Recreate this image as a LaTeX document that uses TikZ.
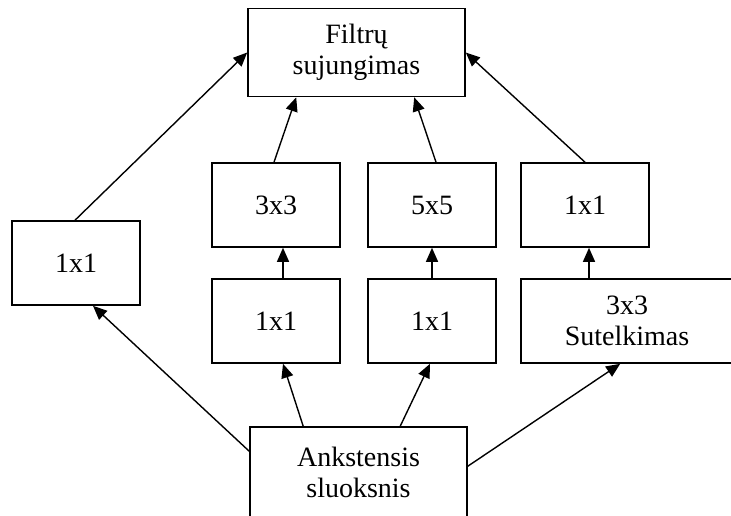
\documentclass[tikz,border=0pt]{standalone}
\usepackage{fontspec}
\setmainfont{Liberation Serif}
\usetikzlibrary{arrows.meta,calc}
\begin{document}
\begin{tikzpicture}[x=1pt,y=-1pt,
  box/.style={draw=black,line width=1.6pt,fill=white,align=center,inner sep=0pt,
    font=\fontsize{28}{31}\selectfont},
  sbox/.style={box,minimum width=128pt,minimum height=84pt},
  wbox/.style={box,minimum width=217pt,minimum height=88pt},
  conn/.style={line width=1.4pt,-{Triangle[length=14pt,width=12pt]}}]
\useasboundingbox (0,0) rectangle (731,515);

% layers
\node[wbox] (concat) at (356.5,52.5) {Filtrų\\sujungimas};
\node[sbox] (left) at (76,263) {1x1};
\node[sbox] (c3) at (276,205) {3x3};
\node[sbox] (c5) at (432,205) {5x5};
\node[sbox] (cp) at (585,205) {1x1};
\node[sbox] (r3) at (276,321) {1x1};
\node[sbox] (r5) at (432,321) {1x1};
\node[box,minimum width=212pt,minimum height=84pt] (pool) at (627,321) {3x3\\Sutelkimas};
\node[box,minimum width=217pt,minimum height=90pt] (prev) at (358.5,472) {Ankstensis\\sluoksnis};

% input to branches
\draw[conn] ($(prev.north west)+(0,25)$) -- ($(left.south)+(17,0)$);
\draw[conn] ($(prev.north west)+(54,0)$) -- ($(r3.south)+(7,0)$);
\draw[conn] ($(prev.north west)+(151,0)$) -- ($(r5.south)+(-2,0)$);
\draw[conn] ($(prev.north east)+(0,40)$) -- ($(pool.south west)+(100,0)$);

% reductions
\draw[conn] ($(r3.north)+(7,0)$) -- ($(c3.south)+(7,0)$);
\draw[conn] (r5.north) -- (c5.south);
\coordinate (cpin) at ($(cp.south)+(4,0)$);
\draw[conn] (cpin |- pool.north) -- (cpin);

% branches to concatenation
\draw[conn] ($(left.north)+(-1,0)$) -- (concat.west);
\draw[conn] ($(c3.north)+(-2,0)$) -- ($(concat.south west)+(49,0)$);
\draw[conn] ($(c5.north)+(4,0)$) -- ($(concat.south west)+(167,0)$);
\draw[conn] (cp.north) -- (concat.east);
\end{tikzpicture}
\end{document}
